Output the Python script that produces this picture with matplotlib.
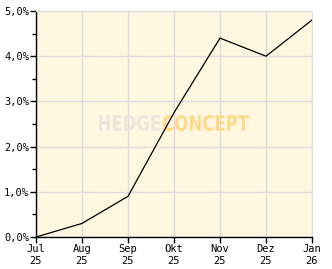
import matplotlib
matplotlib.use("Agg")
import matplotlib.pyplot as plt
from matplotlib.ticker import MultipleLocator, FuncFormatter
from matplotlib.textpath import TextPath
from matplotlib.patches import PathPatch
from matplotlib.font_manager import FontProperties
from matplotlib.transforms import Affine2D

months = ["Jul\n25", "Aug\n25", "Sep\n25", "Okt\n25", "Nov\n25", "Dez\n25", "Jan\n26"]
values = [0.0, 0.3, 0.9, 2.75, 4.4, 4.0, 4.8]  # percent

W, H = 332, 269
fig = plt.figure(figsize=(W / 100, H / 100), dpi=100)
ax = fig.add_axes([36 / W, 32 / H, 276 / W, 226 / H])
ax.set_facecolor("#fff7e0")

x = list(range(len(months)))
ax.plot(x, values, color="black", lw=0.9, zorder=3)

ax.set_xlim(0, len(months) - 1)
ax.set_ylim(0, 5)
ax.set_xticks(x)
ax.set_xticklabels(months)
ax.yaxis.set_major_locator(MultipleLocator(1))
ax.yaxis.set_minor_locator(MultipleLocator(0.5))
ax.yaxis.set_major_formatter(FuncFormatter(lambda v, p: ("%.1f%%" % v).replace(".", ",")))

ax.grid(True, which="major", color="#dcdcdc", lw=1, zorder=1)
for s in ["top", "right"]:
    ax.spines[s].set_color("#dcdcdc")
for s in ["left", "bottom"]:
    ax.spines[s].set_color("black")
    ax.spines[s].set_linewidth(1)

ax.tick_params(axis="both", which="major", length=4, width=1, color="black",
               labelsize=7.5, pad=1, direction="out")
ax.tick_params(axis="y", which="minor", length=3, width=1, color="black")
for lab in ax.get_xticklabels() + ax.get_yticklabels():
    lab.set_family("DejaVu Sans Mono")


# watermark, squeezed into a box given in image pixels (top-left origin)
def stamp(text, x0, x1, y0, y1, color):
    tp = TextPath((0, 0), text, size=10,
                  prop=FontProperties(family="DejaVu Sans", weight="bold"))
    b = tp.get_extents()
    tr = (Affine2D().translate(-b.x0, -b.y0)
          .scale((x1 - x0) / b.width, (y1 - y0) / b.height)
          .translate(x0, H - y1).scale(1 / W, 1 / H)) + fig.transFigure
    ax.add_patch(PathPatch(tp, transform=tr, facecolor=color, edgecolor="none",
                           zorder=2, clip_on=False))


stamp("HEDGE", 99, 160, 115, 131, "#ebe6dc")
stamp("CONCEPT", 163, 249, 115, 131, "#ffd98a")

fig.savefig("out.png", dpi=100)
